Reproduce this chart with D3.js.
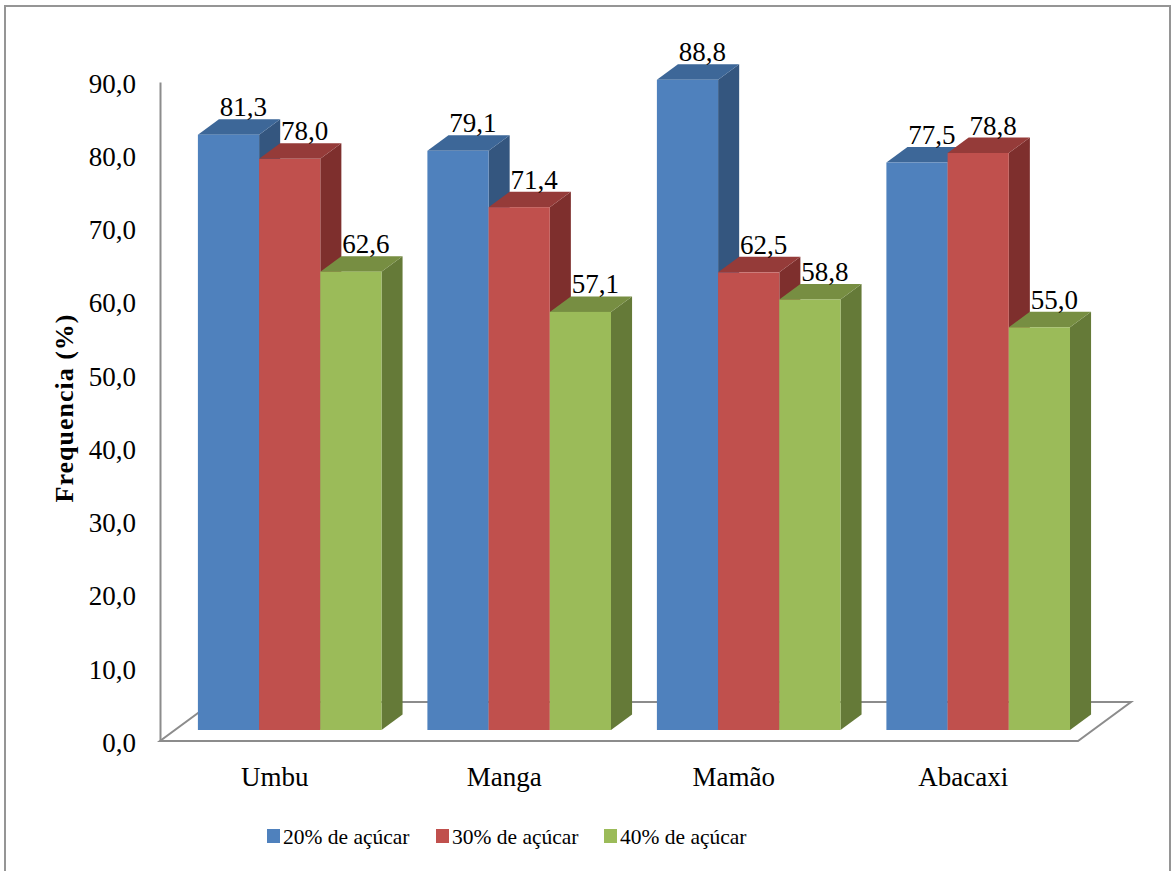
<!DOCTYPE html>
<html>
<head>
<meta charset="utf-8">
<script src="https://cdn.jsdelivr.net/npm/d3@7"></script>
<style>
  html, body { margin: 0; padding: 0; background: #fff; }
  svg { display: block; }
  svg text { font-family: "Liberation Serif", "Times New Roman", serif; }
</style>
</head>
<body>
<svg id="chart" width="1171" height="871"></svg>
<script>
// Fruit categories and sugar-level series
const categories = ["Umbu", "Manga", "Mamão", "Abacaxi"];
const seriesNames = ["20% de açúcar", "30% de açúcar", "40% de açúcar"];
const sugar20 = [81.3, 79.1, 88.8, 77.5];
const sugar30 = [78.0, 71.4, 62.5, 78.8];
const sugar40 = [62.6, 57.1, 58.8, 55.0];
const yTicks = [0, 10, 20, 30, 40, 50, 60, 70, 80, 90];

const seriesValues = [sugar20, sugar30, sugar40];

// Face colours per series: front, top, side
const palette = [
  { front: "#4F81BD", top: "#3D6798", side: "#34567F" },
  { front: "#C0504D", top: "#953B39", side: "#7E2F2D" },
  { front: "#9BBB59", top: "#778E42", side: "#657A38" }
];

const FONT = "'Liberation Serif', 'Times New Roman', serif";

const ptBR = d3.formatLocale({ decimal: ",", thousands: ".", grouping: [3], currency: ["R$", ""] });
const fmt = ptBR.format(".1f");

const svg = d3.select("#chart");

// Outer frame
svg.append("rect")
  .attr("x", 5).attr("y", 6).attr("width", 1165).attr("height", 900)
  .attr("fill", "none").attr("stroke", "#959595").attr("stroke-width", 2);

// Plot geometry (front plane of the floor)
const plotLeft = 160, plotRight = 1078, plotBase = 741, plotTop = 82;
const floorDX = 53, floorDY = 39;        // depth of the floor
const barOffDY = 11, barDepthDY = 15.5;   // bar placement inside the floor depth
const slope = floorDX / floorDY;

const y = d3.scaleLinear().domain([0, 90]).range([plotBase, plotTop]);
const x0 = d3.scaleBand().domain(categories).range([plotLeft, plotRight]).paddingInner(0.2).paddingOuter(0.1);
const x1 = d3.scaleBand().domain(d3.range(seriesNames.length)).range([0, x0.bandwidth()]);

// Floor
const floor = [
  [plotLeft, plotBase], [plotRight, plotBase],
  [plotRight + floorDX, plotBase - floorDY], [plotLeft + floorDX, plotBase - floorDY]
];
svg.append("polygon")
  .attr("points", floor.map(p => p.join(",")).join(" "))
  .attr("fill", "#fff").attr("stroke", "#8C8C8C").attr("stroke-width", 2)
  .attr("stroke-linejoin", "miter");

// Value axis
const yAxis = d3.axisLeft(y).tickValues(yTicks).tickFormat(fmt)
  .tickSize(0).tickSizeOuter(0).tickPadding(24);
const gy = svg.append("g").attr("transform", `translate(${plotLeft},0)`).call(yAxis);
gy.select(".domain").attr("stroke", "#8C8C8C").attr("stroke-width", 2);
gy.selectAll("text")
  .attr("font-family", FONT)
  .attr("font-size", 27).attr("fill", "#000").attr("dy", "0.38em");

// Axis title
svg.append("text")
  .attr("transform", "translate(73,408) rotate(-90)")
  .attr("text-anchor", "middle")
  .attr("font-family", FONT)
  .attr("font-size", 26).attr("font-weight", "bold").attr("letter-spacing", 1)
  .text("Frequencia (%)");

// Bars as 3D boxes
const bars = [];
categories.forEach((c, ci) => {
  seriesValues.forEach((vals, si) => {
    bars.push({ cat: c, si, value: vals[ci] });
  });
});

const offX = barOffDY * slope, offY = barOffDY;
const depX = barDepthDY * slope, depY = barDepthDY;

const gBars = svg.append("g");
bars.forEach(d => {
  const xa = x0(d.cat) + x1(d.si) + offX;
  const xb = xa + x1.bandwidth();
  const yb = plotBase - offY;
  const yt = y(d.value) - offY;
  const col = palette[d.si];
  const g = gBars.append("g");
  // side face
  g.append("polygon")
    .attr("points", [[xb, yb], [xb + depX, yb - depY], [xb + depX, yt - depY], [xb, yt]].map(p => p.join(",")).join(" "))
    .attr("fill", col.side);
  // top face
  g.append("polygon")
    .attr("points", [[xa, yt], [xb, yt], [xb + depX, yt - depY], [xa + depX, yt - depY]].map(p => p.join(",")).join(" "))
    .attr("fill", col.top);
  // front face
  g.append("rect")
    .attr("x", xa).attr("y", yt).attr("width", xb - xa).attr("height", yb - yt)
    .attr("fill", col.front);
});

// Data labels
svg.append("g").selectAll("text").data(bars).join("text")
  .attr("x", d => x0(d.cat) + x1(d.si) + offX + x1.bandwidth() / 2 + 15)
  .attr("y", d => y(d.value) - offY - depY - 3)
  .attr("text-anchor", "middle")
  .attr("font-family", FONT)
  .attr("font-size", 27).attr("fill", "#000")
  .text(d => fmt(d.value));

// Category labels
svg.append("g").selectAll("text").data(categories).join("text")
  .attr("x", d => x0(d) + x0.bandwidth() / 2)
  .attr("y", 786)
  .attr("text-anchor", "middle")
  .attr("font-family", FONT)
  .attr("font-size", 27).attr("fill", "#000")
  .text(d => d);

// Legend
const legendX = [267, 436, 604];
const legend = svg.append("g").selectAll("g").data(seriesNames).join("g")
  .attr("transform", (d, i) => `translate(${legendX[i]},829)`);
legend.append("rect").attr("width", 13).attr("height", 14)
  .attr("fill", (d, i) => palette[i].front);
legend.append("text")
  .attr("x", 16).attr("y", 7).attr("dy", "0.36em")
  .attr("font-family", FONT)
  .attr("font-size", 21.5).attr("fill", "#000")
  .text(d => d);
</script>
</body>
</html>
